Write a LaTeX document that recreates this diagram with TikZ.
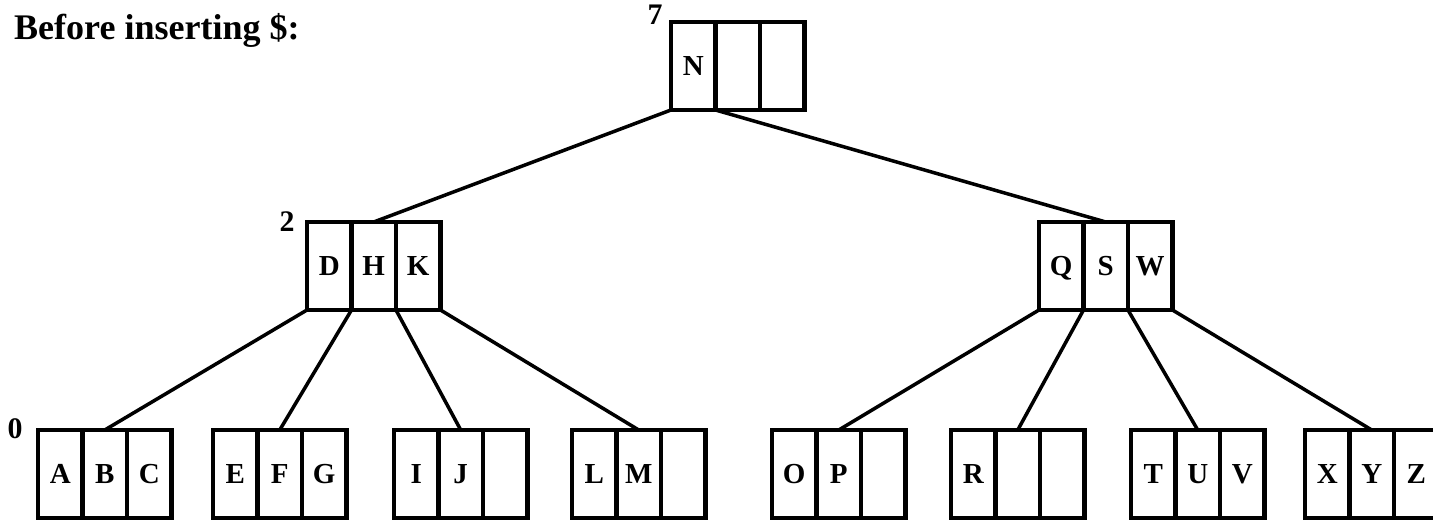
\documentclass[tikz,border=0pt]{standalone}
\usepackage{fontspec}
\setmainfont{Liberation Serif}
\usetikzlibrary{positioning}

\begin{document}
\begin{tikzpicture}[
        x=0.02cm, y=-0.02cm,
        cell/.style={
            draw, line width=2.8pt,
            minimum width=0.89cm, minimum height=1.76cm,
            inner sep=0pt, outer sep=0pt,
            text height=10.6pt, text depth=0pt,
            font=\bfseries\fontsize{16.5}{16.5}\selectfont
        },
        link/.style={line width=2pt},
        lvl/.style={font=\bfseries\fontsize{17}{17}\selectfont}
    ]
    \useasboundingbox (0,0) rectangle (1433,522);

    % 1. Titulo
    \node[anchor=base west, font=\bfseries\fontsize{20.5}{20.5}\selectfont] (title) at (8,39) {Before inserting \$:};

    % 2. Nodos del arbol (nombre/x/y/claves)
    \foreach \nm/\x/\y/\ka/\kb/\kc in {
        root/671/22/N/{}/{},
        dhk/307/222/D/H/K,
        qsw/1039/222/Q/S/W,
        abc/38/430/A/B/C,
        efg/213/430/E/F/G,
        ij/394/430/I/J/{},
        lm/572/430/L/M/{},
        op/772/430/O/P/{},
        r/951/430/R/{}/{},
        tuv/1131/430/T/U/V,
        xyz/1305/430/X/Y/Z%
    }{
        \node[cell, anchor=north west] (\nm-1) at (\x,\y) {\ka};
        \node[cell, right=0pt of \nm-1] (\nm-2) {\kb};
        \node[cell, right=0pt of \nm-2] (\nm-3) {\kc};
    }

    % 3. Niveles
    \node[lvl] (h7) at (655,15) {7};
    \node[lvl] (h2) at (287,222) {2};
    \node[lvl] (h0) at (15,429) {0};

    % 4. Punteros de la raiz
    \draw[link] (root-1.south west) -- (dhk-2.north);
    \draw[link] (root-1.south east) -- (qsw-2.north);

    % 5. Punteros hacia las hojas
    \foreach \src/\dst in {
        dhk-1.south west/abc, dhk-1.south east/efg,
        dhk-2.south east/ij, dhk-3.south east/lm,
        qsw-1.south west/op, qsw-1.south east/r,
        qsw-2.south east/tuv, qsw-3.south east/xyz%
    }{
        \draw[link] (\src) -- (\dst-2.north);
    }

\end{tikzpicture}
\end{document}
